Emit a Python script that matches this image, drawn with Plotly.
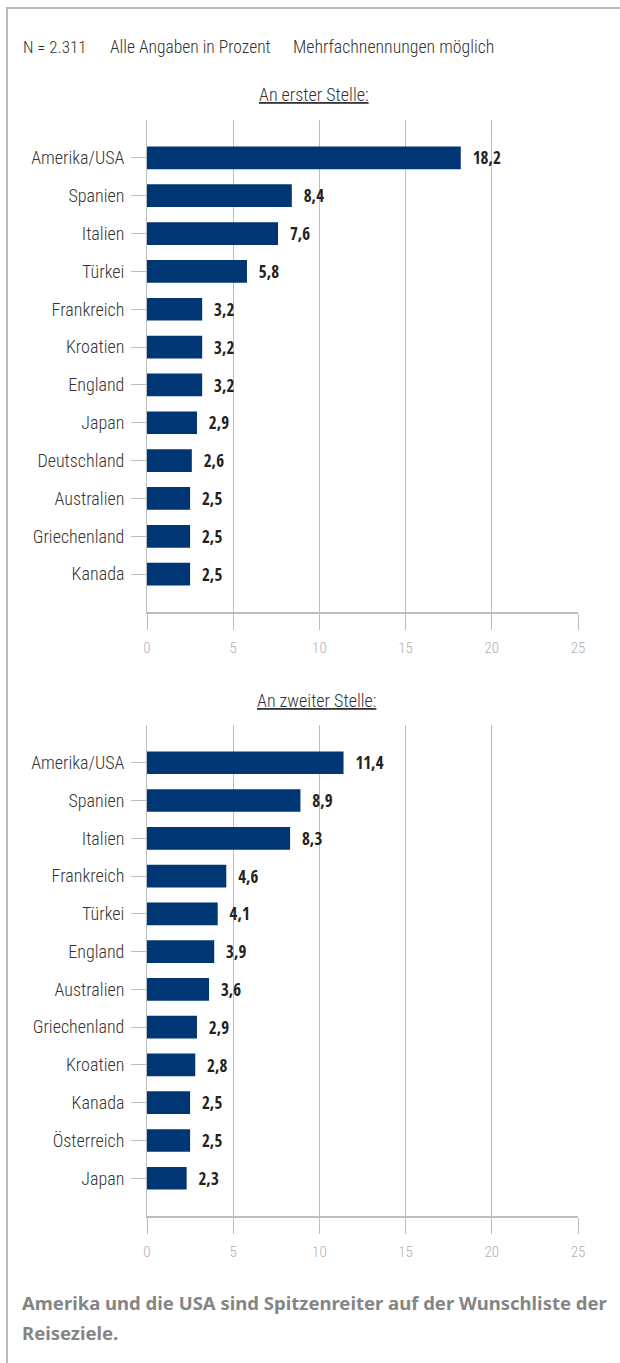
import plotly.graph_objects as go

W, H = 620, 1363

cats_1 = ["Amerika/USA", "Spanien", "Italien", "Türkei", "Frankreich", "Kroatien",
          "England", "Japan", "Deutschland", "Australien", "Griechenland", "Kanada"]
vals_1 = [18.2, 8.4, 7.6, 5.8, 3.2, 3.2, 3.2, 2.9, 2.6, 2.5, 2.5, 2.5]

cats_2 = ["Amerika/USA", "Spanien", "Italien", "Frankreich", "Türkei", "England",
          "Australien", "Griechenland", "Kroatien", "Kanada", "Österreich", "Japan"]
vals_2 = [11.4, 8.9, 8.3, 4.6, 4.1, 3.9, 3.6, 2.9, 2.8, 2.5, 2.5, 2.3]

x_ticks = [0, 5, 10, 15, 20, 25]

header_parts = ["N = 2.311", "Alle Angaben in Prozent", "Mehrfachnennungen möglich"]
title_1 = "An erster Stelle:"
title_2 = "An zweiter Stelle:"
caption_1 = "Amerika und die USA sind Spitzenreiter auf der Wunschliste der"
caption_2 = "Reiseziele."

BAR = "#003673"
GRID = "#bdbdbd"
LIGHT = "Roboto Condensed, sans-serif"
BOLDC = "Open Sans Condensed, Roboto Condensed, sans-serif"

def px_x(p):
    return p / W

def px_y(p):
    return 1 - p / H

fig = go.Figure()

for i, (cats, vals) in enumerate([(cats_1, vals_1), (cats_2, vals_2)]):
    sfx = "" if i == 0 else "2"
    fig.add_trace(go.Bar(
        x=vals, y=cats, orientation="h",
        marker=dict(color=BAR, line=dict(width=0)),
        texttemplate="\u00a0\u00a0%{x:.1f}", textposition="outside",
        textfont=dict(family=BOLDC, size=18, color="#222222", weight=700),
        cliponaxis=False, width=0.6,
        xaxis="x" + sfx, yaxis="y" + sfx, showlegend=False, hoverinfo="skip",
    ))

xcommon = dict(
    range=[0, 25], tickvals=x_ticks, showgrid=True, gridcolor=GRID, gridwidth=1,
    zeroline=False, showline=True, linecolor=GRID, linewidth=1.5,
    ticks="outside", ticklen=16, tickcolor=GRID, tickwidth=1, automargin=False,
    ticklabelstandoff=5,
    tickfont=dict(family=LIGHT, size=15, color="#b0b0b0", weight=300), fixedrange=True,
)
ycommon = dict(
    autorange=False, range=[12, -1], type="category", automargin=False,
    showgrid=False, zeroline=False, showline=True, linecolor=GRID, linewidth=1,
    ticks="outside", ticklen=15, tickcolor=GRID, tickwidth=1, ticklabelstandoff=3,
    tickfont=dict(family=LIGHT, size=18, color="#333333", weight=300), fixedrange=True,
)

fig.update_layout(
    width=W, height=H, margin=dict(l=0, r=0, t=0, b=0, pad=0, autoexpand=False),
    paper_bgcolor="white", plot_bgcolor="white",
    separators=",.",
    xaxis=dict(domain=[px_x(147), px_x(578)], anchor="y", **xcommon),
    yaxis=dict(domain=[px_y(612), px_y(120)], anchor="x", **ycommon),
    xaxis2=dict(domain=[px_x(147), px_x(578)], anchor="y2", **xcommon),
    yaxis2=dict(domain=[px_y(1216), px_y(725)], anchor="x2", **ycommon),
)

fig.add_shape(type="line", xref="paper", yref="paper",
              x0=px_x(7), x1=px_x(7), y0=px_y(7), y1=0,
              line=dict(color="#bbbbbb", width=2))
fig.add_shape(type="line", xref="paper", yref="paper",
              x0=px_x(6), x1=1, y0=px_y(8), y1=px_y(8),
              line=dict(color="#bbbbbb", width=2))

for txt, xx, sz in zip(header_parts, [21, 108, 291], [17, 17.5, 17.8]):
    fig.add_annotation(text=txt, xref="paper", yref="paper",
                       x=px_x(xx), y=px_y(47), xanchor="left", yanchor="middle",
                       showarrow=False, font=dict(family=LIGHT, size=sz, color="#333333", weight=300))
fig.add_annotation(text="<u>" + title_1 + "</u>", xref="paper", yref="paper",
                   x=px_x(314), y=px_y(95), xanchor="center", yanchor="middle",
                   showarrow=False, font=dict(family=LIGHT, size=18, color="#333333", weight=300))
fig.add_annotation(text="<u>" + title_2 + "</u>", xref="paper", yref="paper",
                   x=px_x(316), y=px_y(700), xanchor="center", yanchor="middle",
                   showarrow=False, font=dict(family=LIGHT, size=18, color="#333333", weight=300))
for txt, yy in [(caption_1, 1302), (caption_2, 1332)]:
    fig.add_annotation(text=txt, xref="paper", yref="paper",
                       x=px_x(20), y=px_y(yy), xanchor="left", yanchor="middle", align="left",
                       showarrow=False,
                       font=dict(family="Noto Sans, sans-serif", size=18.5, color="#858585", weight=700))

fig.write_html("out.html", config={"displayModeBar": False},
               post_script="document.body.style.margin='0';document.body.style.overflow='hidden';")
